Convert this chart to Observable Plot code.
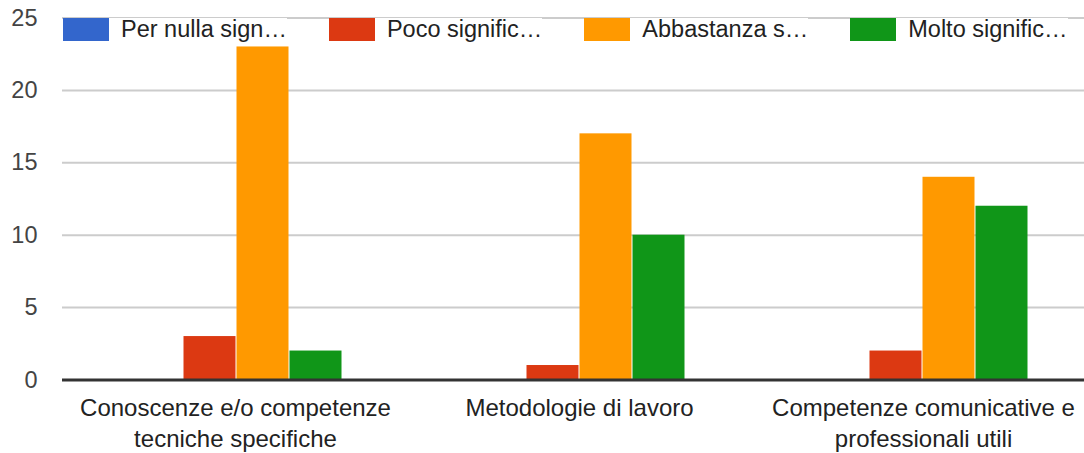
<!DOCTYPE html>
<html>
<head>
<meta charset="utf-8">
<script src="https://cdn.jsdelivr.net/npm/d3@7"></script>
<script src="https://cdn.jsdelivr.net/npm/@observablehq/plot@0.6"></script>
<style>
  html, body { margin: 0; padding: 0; background: #fff; overflow: hidden; }
  #wrap { position: relative; width: 1084px; height: 453px; overflow: hidden; font-family: "Liberation Sans", Arial, sans-serif; background: #fff; }
  svg.layer { position: absolute; left: 0; top: 0; max-width: none !important; width: 1096px !important; height: 453px !important; }
  #legend { position: absolute; left: 63px; top: 18px; display: flex; gap: 42px; font-size: 23.5px; color: #222; }
  .item { display: flex; align-items: center; gap: 12px; background: #fff; height: 23px; }
  .sw { width: 46px; height: 23px; }
  .lab { line-height: 23px; white-space: nowrap; }
</style>
</head>
<body>
<div id="wrap"><div id="legend"></div></div>
<script>
const categories = ["Conoscenze e/o competenze tecniche specifiche", "Metodologie di lavoro", "Competenze comunicative e professionali utili"];
const categoryLabels = ["Conoscenze e/o competenze\ntecniche specifiche", "Metodologie di lavoro", "Competenze comunicative e\nprofessionali utili"];
const series = ["Per nulla significativo", "Poco significativo", "Abbastanza significativo", "Molto significativo"];
const legendLabels = ["Per nulla sign…", "Poco signific…", "Abbastanza s…", "Molto signific…"];
const colors = ["#3366cc", "#dc3912", "#ff9900", "#109618"];
const perNulla = [0, 0, 0];
const poco = [3, 1, 2];
const abbastanza = [23, 17, 14];
const molto = [2, 10, 12];
const yTicks = [0, 5, 10, 15, 20, 25];

const valuesBySeries = [perNulla, poco, abbastanza, molto];
const data = [];
categories.forEach((c, i) => series.forEach((s, j) => data.push({cat: c, ser: s, value: valuesBySeries[j][i]})));

const font = "'Liberation Sans', Arial, sans-serif";
const frame = {
  width: 1096,
  height: 453,
  marginLeft: 62,
  marginRight: 0,
  marginTop: 17.5,
  marginBottom: 73.5,
  style: {fontFamily: font, background: "transparent", overflow: "visible", maxWidth: "none"},
  y: {domain: [0, 25], label: null, axis: null}
};
const bandPad = {paddingInner: 0.378, paddingOuter: 0.192};

// Layer 1: grid, y axis, category labels
const back = Plot.plot({
  ...frame,
  x: {domain: categories, ...bandPad, label: null},
  marks: [
    Plot.gridY(yTicks, {stroke: "#cccccc", strokeOpacity: 1, strokeWidth: 2}),
    Plot.axisY(yTicks, {tickSize: 0, tickPadding: 25, fontSize: 23.5, fill: "#444", label: null}),
    Plot.axisX({anchor: "bottom", tickSize: 0, tickPadding: 14, fontSize: 24, lineHeight: 1.3, fill: "#222", label: null,
      tickFormat: d => categoryLabels[categories.indexOf(d)]})
  ]
});

// Layer 2: grouped bars
const bars = Plot.plot({
  ...frame,
  fx: {domain: categories, ...bandPad, label: null, axis: null},
  x: {domain: series, padding: 0, axis: null},
  color: {domain: series, range: colors},
  marks: [
    Plot.barY(data, {fx: "cat", x: "ser", y: "value", fill: "ser", insetLeft: 0.5, insetRight: 0.5})
  ]
});

// Layer 3: baseline
const base = Plot.plot({
  ...frame,
  marks: [Plot.ruleY([0], {stroke: "#333", strokeWidth: 3})]
});

const wrap = document.getElementById("wrap");
const legend = document.getElementById("legend");
[back, bars, base].forEach(svg => { svg.classList.add("layer"); wrap.insertBefore(svg, legend); });

series.forEach((s, i) => {
  const it = document.createElement("div");
  it.className = "item";
  it.innerHTML = `<div class="sw" style="background:${colors[i]}"></div><div class="lab">${legendLabels[i]}</div>`;
  legend.appendChild(it);
});
</script>
</body>
</html>
